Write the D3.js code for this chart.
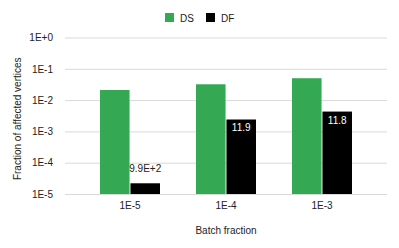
<!DOCTYPE html>
<html>
<head>
<meta charset="utf-8">
<script src="https://cdn.jsdelivr.net/npm/d3@7"></script>
<style>
  body { margin: 0; background: #fff; }
  text { font-family: "Liberation Sans", Arial, sans-serif; }
</style>
</head>
<body>
<div id="chart"></div>
<script>
// Chart data
var categories = ["1E-5", "1E-4", "1E-3"];
var seriesNames = ["DS", "DF"];
var dsValues = [0.021, 0.032, 0.050];
var dfValues = [0.000022, 0.0024, 0.0043];
var dfLabels = ["9.9E+2", "11.9", "11.8"];
var yTicks = [1e-5, 1e-4, 1e-3, 1e-2, 1e-1, 1];
var yTickLabels = ["1E-5", "1E-4", "1E-3", "1E-2", "1E-1", "1E+0"];

var svgWidth = 399;
var svgHeight = 248;
var colors = { DS: "#34a853", DF: "#000000" };

var svg = d3.select("#chart")
  .append("svg")
  .attr("width", svgWidth)
  .attr("height", svgHeight);

// plot area
var plotLeft = 65, plotRight = 387, plotTop = 37.5, plotBottom = 194;

var yScale = d3.scaleLog()
  .domain([1e-5, 1])
  .range([plotBottom, plotTop]);

var xScale = d3.scaleBand()
  .domain(categories)
  .range([82, 370])
  .paddingInner(0.375)
  .paddingOuter(0.1875);

var xInner = d3.scaleBand()
  .domain(seriesNames)
  .range([0, xScale.bandwidth()])
  .paddingInner(0.03);

// gridlines
var leftAxis = d3.axisLeft(yScale)
  .tickValues(yTicks)
  .tickFormat((d, i) => yTickLabels[i])
  .tickSize(-(plotRight - plotLeft))
  .tickPadding(12);

var yAxisG = svg.append("g")
  .attr("transform", `translate(${plotLeft}, 0)`)
  .call(leftAxis);
yAxisG.select(".domain").remove();
yAxisG.selectAll("line").attr("stroke", "#d9d9d9");
yAxisG.selectAll("text")
  .attr("fill", "#222")
  .style("font-size", "10px");

// bars
var rows = categories.map((c, i) => ({ cat: c, DS: dsValues[i], DF: dfValues[i], label: dfLabels[i] }));

var groups = svg.selectAll(".grp")
  .data(rows)
  .enter()
  .append("g")
  .attr("class", "grp")
  .attr("transform", d => `translate(${xScale(d.cat)}, 0)`);

groups.selectAll("rect")
  .data(d => seriesNames.map(s => ({ key: s, value: d[s] })))
  .enter()
  .append("rect")
  .attr("x", d => xInner(d.key))
  .attr("y", d => yScale(d.value))
  .attr("width", xInner.bandwidth())
  .attr("height", d => plotBottom - yScale(d.value))
  .attr("fill", d => colors[d.key]);

// DF labels: inside bar if tall enough, otherwise above
groups.append("text")
  .attr("x", xInner("DF") + xInner.bandwidth() / 2)
  .attr("y", d => {
    var top = yScale(d.DF);
    return (plotBottom - top > 20) ? top + 12 : top - 11;
  })
  .attr("text-anchor", "middle")
  .attr("fill", d => (plotBottom - yScale(d.DF) > 20) ? "#fff" : "#222")
  .style("font-size", "10px")
  .text(d => d.label);

// x axis labels
var bottomAxis = d3.axisBottom(xScale).tickSize(0).tickPadding(8);
var xAxisG = svg.append("g")
  .attr("transform", `translate(0, ${plotBottom})`)
  .call(bottomAxis);
xAxisG.select(".domain").remove();
xAxisG.selectAll("text")
  .attr("fill", "#222")
  .style("font-size", "10px");

// axis titles
svg.append("text")
  .attr("x", (plotLeft + plotRight) / 2)
  .attr("y", 234)
  .attr("text-anchor", "middle")
  .attr("fill", "#222")
  .style("font-size", "10px")
  .text("Batch fraction");

svg.append("text")
  .attr("transform", `translate(21, ${(plotTop + plotBottom) / 2 + 3}) rotate(-90)`)
  .attr("text-anchor", "middle")
  .attr("fill", "#222")
  .style("font-size", "10px")
  .text("Fraction of affected vertices");

// legend
var legendX = [165, 206];
var legend = svg.selectAll(".legend")
  .data(seriesNames)
  .enter()
  .append("g")
  .attr("class", "legend")
  .attr("transform", (d, i) => `translate(${legendX[i]}, 13)`);

legend.append("rect")
  .attr("width", 9)
  .attr("height", 9)
  .attr("fill", d => colors[d]);

legend.append("text")
  .attr("x", 15)
  .attr("y", 8.5)
  .attr("fill", "#222")
  .style("font-size", "10px")
  .text(d => d);
</script>
</body>
</html>
